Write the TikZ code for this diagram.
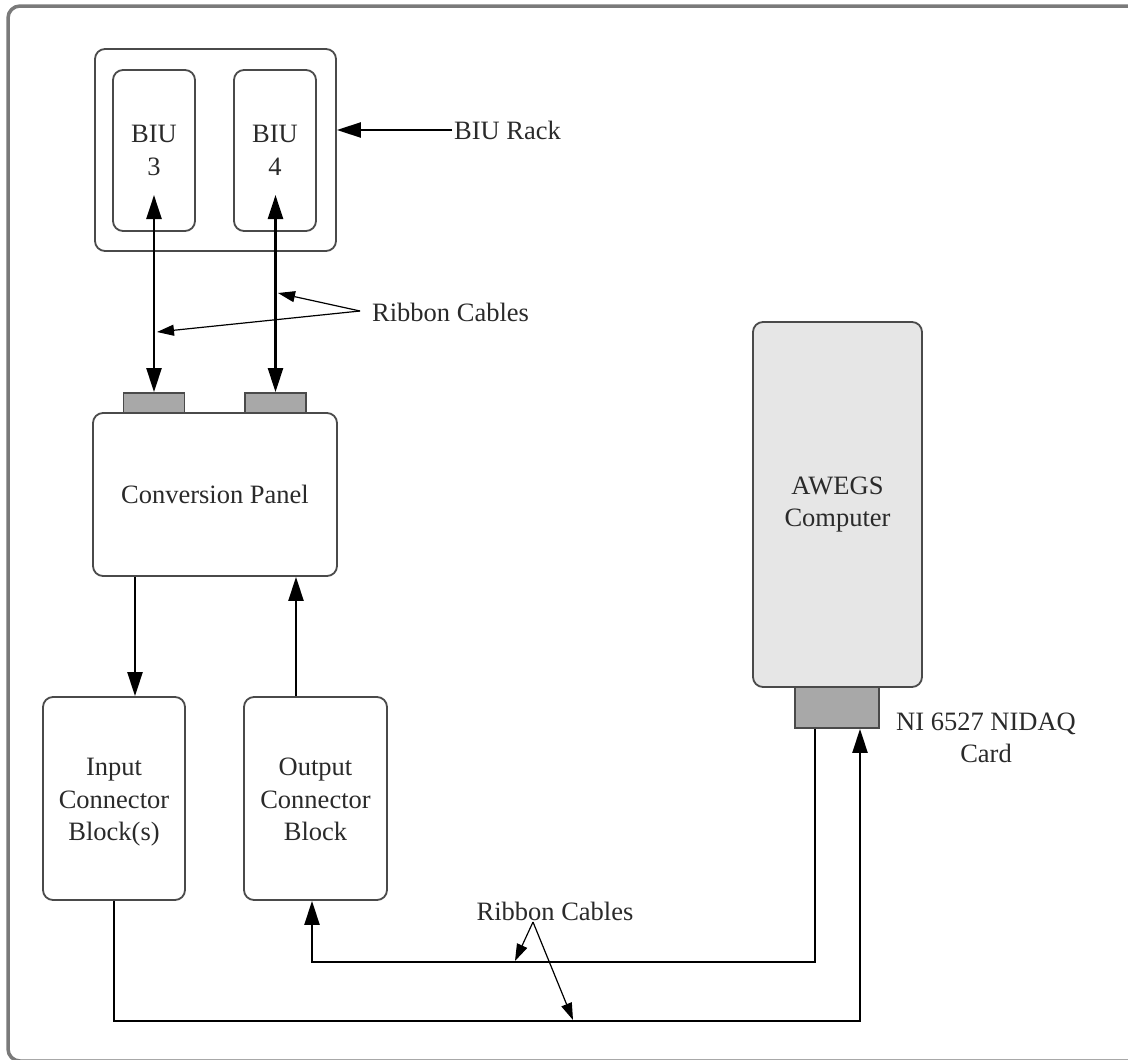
\documentclass[tikz,border=0pt]{standalone}
\usepackage{fontspec}
\setmainfont{Liberation Serif}
\usetikzlibrary{arrows.meta,calc}
\newcommand{\lblfont}{\fontsize{26.5}{32.5}\selectfont}
\newcommand{\topstrut}{\rule{0pt}{27pt}}
\newcommand{\botstrut}{\rule[-8pt]{0pt}{8pt}}
\definecolor{boxc}{HTML}{4A4A4A}
\definecolor{txtc}{HTML}{2A2A2A}
\definecolor{connc}{HTML}{A8A8A8}
\definecolor{pcc}{HTML}{E6E6E6}
\definecolor{framec}{HTML}{7A7A7A}
\begin{document}
\begin{tikzpicture}[x=1pt,y=-1pt,
  box/.style={draw=boxc, line width=1.8pt, rounded corners=10pt, inner sep=0pt,
    align=center, font=\lblfont, text=txtc},
  conn/.style={draw=boxc, line width=1.8pt, fill=connc, inner sep=0pt},
  txt/.style={font=\lblfont, text=txtc, inner sep=2pt, align=center},
  cable/.style={draw=black, line width=2.4pt},
  bigtip/.style={-{Triangle[length=24pt,width=15pt]}},
  dbltip/.style={{Triangle[length=24pt,width=15pt]}-{Triangle[length=24pt,width=15pt]}},
  pointer/.style={draw=black, line width=1.2pt, -{Triangle[length=17pt,width=11pt]}},
  frame/.style={draw=framec, line width=3.5pt, rounded corners=12pt}
]
\useasboundingbox (0,0) rectangle (1128,1060);
\begin{scope}
  \clip (0,0) rectangle (1128,1060);
  \draw[frame] (8,6) rectangle (1150,1061);
\end{scope}

% BIU rack
\node[box, minimum width=241pt, minimum height=202pt] (rack) at (215.5,150) {};
\node[box, minimum width=82pt, minimum height=161pt] (biu3) at (154,150.5) {BIU\\3};
\node[box, minimum width=82pt, minimum height=161pt] (biu4) at (275,150.5) {BIU\\4};
\node[txt, anchor=west] (racklbl) at (452,130) {BIU Rack};

% Conversion panel and its connectors
\node[box, minimum width=244pt, minimum height=163pt] (cp) at (215,494.5) {Conversion Panel};
\node[conn, minimum width=61pt, minimum height=20pt] (c1) at (154,403) {};
\node[conn, minimum width=61pt, minimum height=20pt] (c2) at (275.5,403) {};

% Connector blocks
\node[box, minimum width=142pt, minimum height=203pt] (in) at (114,798.5) {\topstrut Input\\Connector\\Block(s)\botstrut};
\node[box, minimum width=143pt, minimum height=203pt] (out) at (315.5,798.5) {\topstrut Output\\Connector\\Block\botstrut};

% AWEGS computer and card
\node[box, fill=pcc, minimum width=169pt, minimum height=365pt] (pc) at (837.5,504.5) {AWEGS\\Computer};
\node[conn, minimum width=84pt, minimum height=41pt] (card) at (837,707.5) {};
\node[txt] (cardlbl) at (986,738) {NI 6527 NIDAQ\\Card};

% Ribbon cable labels
\node[txt, anchor=west] (rc1) at (370,312) {Ribbon Cables};
\node[txt] (rc2) at (555,911) {Ribbon Cables};

% helper coordinates
\coordinate (ytop) at (0,195);
\coordinate (xa) at (135,0);
\coordinate (xb) at (296,0);
\coordinate (oc1) at (815,962);
\coordinate (oc2) at (312,962);
\coordinate (ic1) at (114,1021);
\coordinate (ic2) at (860,1021);
\coordinate (rp1) at (360,311);
\coordinate (p4) at (278,293);
\coordinate (p3) at (157,332);
\coordinate (rp2) at (533,922);
\coordinate (q1) at (515,961);
\coordinate (q2) at (573,1020);

% BIU rack pointer
\draw[cable, bigtip] (racklbl.west) -- (rack.east |- racklbl.west);

% ribbon cables BIU <-> conversion panel
\draw[cable, dbltip] (c1.north |- ytop) -- (c1.north);
\draw[cable, dbltip] (c2.north |- ytop) -- (c2.north);

% conversion panel <-> connector blocks
\draw[cable, bigtip] (cp.south -| xa) -- (in.north -| xa);
\draw[cable, bigtip] (out.north -| xb) -- (cp.south -| xb);

% ribbon cables to the card
\draw[cable, bigtip] (card.south -| oc1) -- (oc1) -| (out.south -| oc2);
\draw[cable, bigtip] (in.south) -- (in.south |- ic1) -| (card.south -| ic2);

% label pointers
\draw[pointer] (rp1) -- (p4);
\draw[pointer] (rp1) -- (p3);
\draw[pointer] (rp2) -- (q1);
\draw[pointer] (rp2) -- (q2);
\end{tikzpicture}
\end{document}
